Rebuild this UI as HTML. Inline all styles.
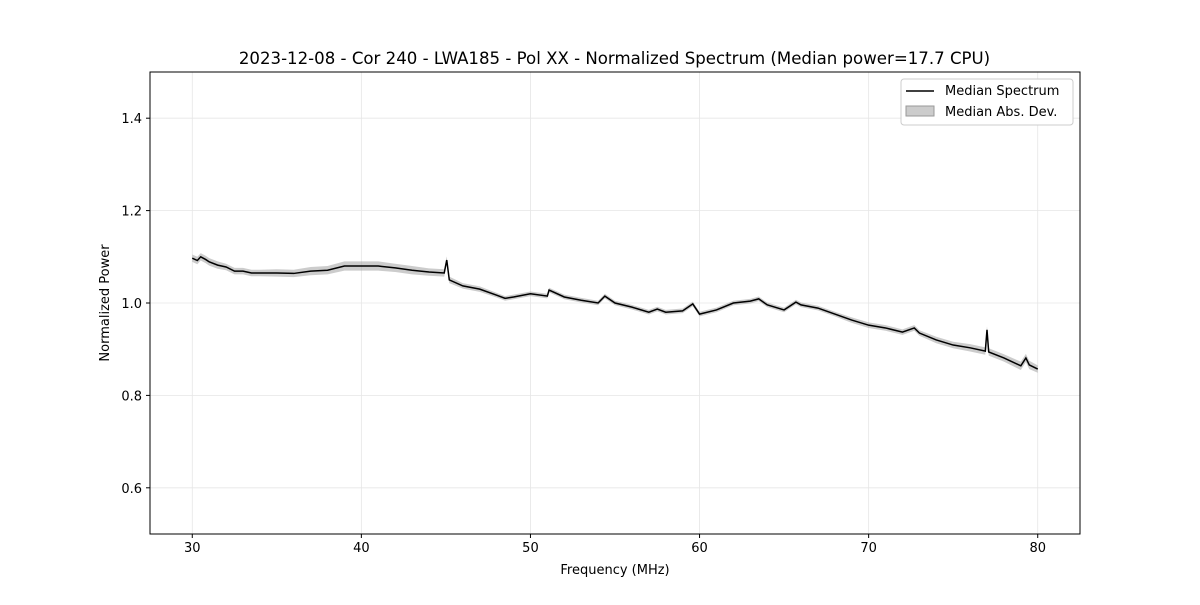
<!DOCTYPE html>
<html><head><meta charset="utf-8"><style>
body{margin:0;background:#fff;font-family:"Liberation Sans","DejaVu Sans",sans-serif}
svg text{font-family:"DejaVu Sans","Liberation Sans",sans-serif}
</style></head><body>
<svg id="c" width="1200" height="600" xmlns="http://www.w3.org/2000/svg"></svg>
<script>
const freqs=[30,30.3,30.5,30.8,31,31.5,32,32.5,33,33.5,34,35,36,37,38,39,40,41,42,43,44,44.9,45.05,45.2,46,47,48,48.5,49,50,51,51.1,52,53,54,54.4,55,56,57,57.5,58,59,59.6,60,61,62,63,63.5,64,65,65.7,66,67,68,69,70,71,72,72.7,73,74,75,76,76.9,77.0,77.1,78,79,79.3,79.5,80];
const power=[1.097,1.092,1.100,1.094,1.089,1.082,1.078,1.069,1.069,1.065,1.065,1.065,1.064,1.069,1.071,1.080,1.080,1.080,1.076,1.071,1.067,1.065,1.093,1.050,1.037,1.030,1.017,1.010,1.013,1.020,1.015,1.028,1.013,1.006,1.000,1.015,1.000,0.991,0.980,0.987,0.980,0.983,0.998,0.976,0.985,1.000,1.004,1.009,0.996,0.985,1.002,0.996,0.989,0.976,0.963,0.952,0.946,0.937,0.946,0.935,0.920,0.909,0.903,0.896,0.942,0.894,0.881,0.864,0.881,0.866,0.857];
const mad=[0.008,0.008,0.008,0.008,0.008,0.008,0.007,0.007,0.007,0.007,0.007,0.008,0.008,0.009,0.009,0.010,0.010,0.010,0.009,0.009,0.008,0.008,0.008,0.007,0.006,0.006,0.005,0.005,0.005,0.005,0.005,0.005,0.005,0.005,0.005,0.005,0.005,0.005,0.005,0.005,0.005,0.005,0.005,0.005,0.005,0.005,0.005,0.005,0.005,0.005,0.005,0.005,0.005,0.005,0.006,0.006,0.006,0.006,0.006,0.006,0.007,0.007,0.008,0.008,0.008,0.008,0.008,0.009,0.009,0.009,0.008];
const xTicks=[30,40,50,60,70,80];
const yTicks=[0.6,0.8,1.0,1.2,1.4];
const L=150,R=1080,T=72,B=534,x0=27.5,x1=82.5,y0=0.5,y1=1.5;
const X=v=>L+(v-x0)/(x1-x0)*(R-L);
const Y=v=>B-(v-y0)/(y1-y0)*(B-T);
const s=document.getElementById('c');const NS='http://www.w3.org/2000/svg';
function el(t,a,txt){const e=document.createElementNS(NS,t);for(const k in a)e.setAttribute(k,a[k]);if(txt!==undefined)e.textContent=txt;s.appendChild(e);return e;}
xTicks.forEach(v=>{
const g=el('line',{x1:X(v),x2:X(v),y1:T,y2:B,stroke:'#e6e6e6','stroke-width':0.8});


el('line',{x1:X(v),x2:X(v),y1:B,y2:B+4,stroke:'#000'});
const t=el('text',{x:X(v),y:B+18,'text-anchor':'middle','font-size':13},String(v));


});
yTicks.forEach(v=>{
const g=el('line',{x1:L,x2:R,y1:Y(v),y2:Y(v),stroke:'#e6e6e6','stroke-width':0.8});


el('line',{x1:L-4,x2:L,y1:Y(v),y2:Y(v),stroke:'#000'});
const t=el('text',{x:L-8,y:Y(v)+5,'text-anchor':'end','font-size':13},v.toFixed(1));


});
let up=freqs.map((f,i)=>X(f)+','+Y(power[i]+mad[i])).join(' ');
let dn=freqs.map((f,i)=>X(f)+','+Y(power[i]-mad[i])).reverse().join(' ');
const band=el('polygon',{points:up+' '+dn,fill:'#999','fill-opacity':0.5,stroke:'none'});


const line=el('polyline',{points:freqs.map((f,i)=>X(f)+','+Y(power[i])).join(' '),fill:'none',stroke:'#000','stroke-width':1.5});


const fr=el('rect',{x:L,y:T,width:R-L,height:B-T,fill:'none',stroke:'#000','stroke-width':1});


const ti=el('text',{x:(L+R)/2-0.5,y:64,'text-anchor':'middle','font-size':16.6},'2023-12-08 - Cor 240 - LWA185 - Pol XX - Normalized Spectrum (Median power=17.7 CPU)');


const xl=el('text',{x:(L+R)/2,y:574,'text-anchor':'middle','font-size':13},'Frequency (MHz)');


const yl=el('text',{x:0,y:0,'text-anchor':'middle','font-size':13,transform:'translate(109,303) rotate(-90)'},'Normalized Power');


const lg=el('rect',{x:901,y:79,width:172,height:46,rx:3,fill:'#fff',stroke:'#ccc'});


el('line',{x1:906,x2:934,y1:91,y2:91,stroke:'#000','stroke-width':1.5});
const l1=el('text',{x:945,y:95,'font-size':13},'Median Spectrum');


el('rect',{x:906,y:106,width:28,height:10,fill:'#999','fill-opacity':0.5,stroke:'#999'});
const l2=el('text',{x:945,y:116,'font-size':13},'Median Abs. Dev.');


</script>
</body></html>
